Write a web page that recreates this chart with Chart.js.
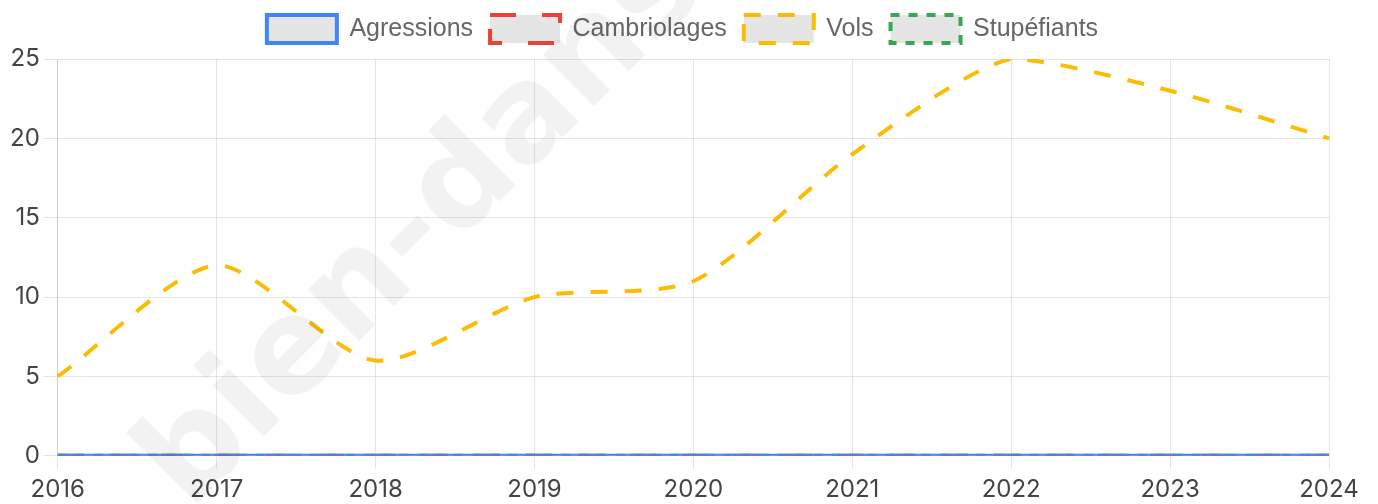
<!DOCTYPE html>
<html>
<head>
<meta charset="utf-8">
<script src="https://cdn.jsdelivr.net/npm/chart.js@4"></script>
<style>
  html, body { margin: 0; padding: 0; background: #fff; }
  #wrap { position: relative; width: 1378px; height: 504px; overflow: hidden; }
  /* baseline of the watermark sits 112px below the top of its line box */
  #watermark {
    position: absolute; left: 189px; top: 399px;
    font: bold 132px "DejaVu Sans", sans-serif;
    line-height: 132px;
    color: rgba(0, 0, 0, 0.05);
    white-space: nowrap;
    transform-origin: 0 112px;
    transform: rotate(-45deg);
    pointer-events: none;
  }
</style>
</head>
<body>
<div id="wrap">
  <canvas id="resultsCanvas" width="1378" height="504"></canvas>
  <div id="watermark">bien-dans-ma-ville.fr</div>
</div>
<script>
'use strict';

// years on the x axis
var years = ['2016', '2017', '2018', '2019', '2020', '2021', '2022', '2023', '2024'];

// one small list per series
var agressions   = [0, 0, 0, 0, 0, 0, 0, 0, 0];
var cambriolages = [0, 0, 0, 0, 0, 0, 0, 0, 0];
var vols         = [5, 12, 6, 10, 11, 19, 25, 23, 20];
var stupefiants  = [0, 0, 0, 0, 0, 0, 0, 0, 0];

var yTicks = [0, 5, 10, 15, 20, 25];

var ctx = document.getElementById('resultsCanvas');

function serie(label, values, color, dash) {
  return {
    label: label,
    data: values,
    borderColor: color,
    backgroundColor: 'rgba(0,0,0,0.1)',
    borderWidth: 4,
    borderDash: dash,
    pointRadius: 0,
    tension: 0.25,
    fill: false
  };
}

// nudge the legend: a bit right of the chart centre and up, like the original
var legendShift = {
  id: 'legendShift',
  afterLayout: function(chart) {
    chart.legend.left += 15;
    chart.legend.right += 15;
    chart.legend.top -= 6;
    chart.legend.bottom -= 6;
  }
};

var myChart = new Chart(ctx, {
  type: 'line',
  data: {
    labels: years,
    datasets: [
      serie('Agressions', agressions, '#4285F4', []),
      serie('Cambriolages', cambriolages, '#EA4335', [26, 26]),
      serie('Vols', vols, '#FBBC05', [17, 17]),
      serie('Stupéfiants', stupefiants, '#34A853', [9, 9])
    ]
  },
  plugins: [legendShift],
  options: {
    responsive: false,
    animation: false,
    layout: { padding: { left: 6, right: 49, top: 4, bottom: -7 } },
    plugins: {
      tooltip: { enabled: false },
      legend: {
        labels: {
          boxWidth: 70,
          boxHeight: 28,
          padding: 17,
          color: '#666',
          font: { family: '"Liberation Sans", Arial, sans-serif', size: 25 }
        }
      }
    },
    scales: {
      x: {
        grid: { color: 'rgba(0,0,0,0.1)', tickLength: 13 },
        ticks: {
          color: '#444', padding: 11, maxRotation: 0,
          font: { family: 'Inter, sans-serif', size: 24, lineHeight: 0.84 }
        }
      },
      y: {
        min: yTicks[0],
        max: yTicks[yTicks.length - 1],
        grid: { color: 'rgba(0,0,0,0.1)', tickLength: 14 },
        ticks: {
          stepSize: 5, color: '#444', padding: 4,
          font: { family: 'Inter, sans-serif', size: 24 }
        }
      }
    }
  }
});
</script>
</body>
</html>
